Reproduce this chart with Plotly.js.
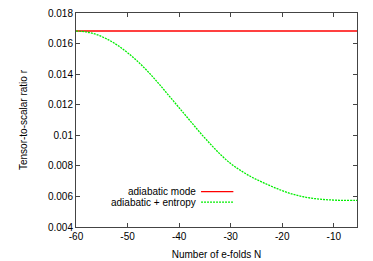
<!DOCTYPE html>
<html>
<head>
<meta charset="utf-8">
<script src="https://cdn.plot.ly/plotly-3.0.1.min.js"></script>
<style>
html,body{margin:0;padding:0;background:#fff;}
#chart{width:373px;height:261px;}
</style>
</head>
<body>
<div id="chart"></div>
<script>
// Data
var seriesNames = ["adiabatic mode", "adiabatic + entropy"];
var adiabaticN = [-60, -5.5];
var adiabaticR = [0.01682, 0.01682];
var entropyN = [-60, -58, -56, -54, -52, -50, -48, -46, -44, -42, -40, -38, -36, -34, -32, -30, -28, -26, -24, -22, -20, -18, -16, -14, -12, -10, -8, -6, -5.5];
var entropyR = [0.01682, 0.01676, 0.01659, 0.01630, 0.01590, 0.01540, 0.01482, 0.01415, 0.01340, 0.01260, 0.01180, 0.01100, 0.01020, 0.00945, 0.00875, 0.00815, 0.00768, 0.00728, 0.00695, 0.00665, 0.00638, 0.00615, 0.00598, 0.00587, 0.00580, 0.00576, 0.00574, 0.00574, 0.00574];
var xTickVals = [-60, -50, -40, -30, -20, -10];
var xTickText = ["-60", "-50", "-40", "-30", "-20", "-10"];
var yTickVals = [0.004, 0.006, 0.008, 0.01, 0.012, 0.014, 0.016, 0.018];
var yTickText = ["0.004", "0.006", "0.008", "0.01", "0.012", "0.014", "0.016", "0.018"];
var xTitle = "Number of e-folds N";
var yTitle = "Tensor-to-scalar ratio r";

var colors = ["#ff0000", "#00ee00"];

var traces = [
  {x: adiabaticN, y: adiabaticR, mode: "lines", name: seriesNames[0],
   line: {color: colors[0], width: 1.6}, showlegend: false},
  {x: entropyN, y: entropyR, mode: "lines", name: seriesNames[1],
   line: {color: colors[1], width: 1.3, dash: "2px,1px", shape: "spline"}, showlegend: false}
];

var font = {family: "Liberation Sans, Arial, sans-serif", size: 10, color: "#000"};

// legend drawn gnuplot-style: right-aligned text, sample line to the right
var legX0 = 0.445, legX1 = 0.56;
var legY = [0.165, 0.116];
var annotations = [], shapes = [];
for (var i = 0; i < seriesNames.length; i++) {
  annotations.push({xref: "paper", yref: "paper", x: legX0 - 0.01, y: legY[i],
    xanchor: "right", yanchor: "middle", text: seriesNames[i], showarrow: false, font: font});
  shapes.push({type: "line", xref: "paper", yref: "paper", x0: legX0, x1: legX1, y0: legY[i], y1: legY[i],
    line: {color: colors[i], width: 1.2, dash: i === 0 ? "solid" : "2px,1px"}});
}

var layout = {
  width: 373, height: 261,
  margin: {l: 76, r: 16, t: 13, b: 34},
  paper_bgcolor: "#fff", plot_bgcolor: "#fff",
  font: font,
  showlegend: false,
  xaxis: {
    range: [-60, -5.5], tickvals: xTickVals, ticktext: xTickText, ticks: "inside", ticklen: 4, tickcolor: "#444",
    showline: true, linecolor: "#444", linewidth: 1, mirror: "ticks", showgrid: false, zeroline: false,
    title: {text: xTitle, font: font, standoff: 9}, tickfont: font
  },
  yaxis: {
    range: [0.004, 0.018], tickvals: yTickVals, ticktext: yTickText, ticks: "inside", ticklen: 4, tickcolor: "#444",
    showline: true, linecolor: "#444", linewidth: 1, mirror: "ticks", showgrid: false, zeroline: false,
    title: {text: yTitle, font: font, standoff: 18}, tickfont: font
  },
  annotations: annotations,
  shapes: shapes
};

Plotly.newPlot("chart", traces, layout, {staticPlot: true, displayModeBar: false});
</script>
</body>
</html>
